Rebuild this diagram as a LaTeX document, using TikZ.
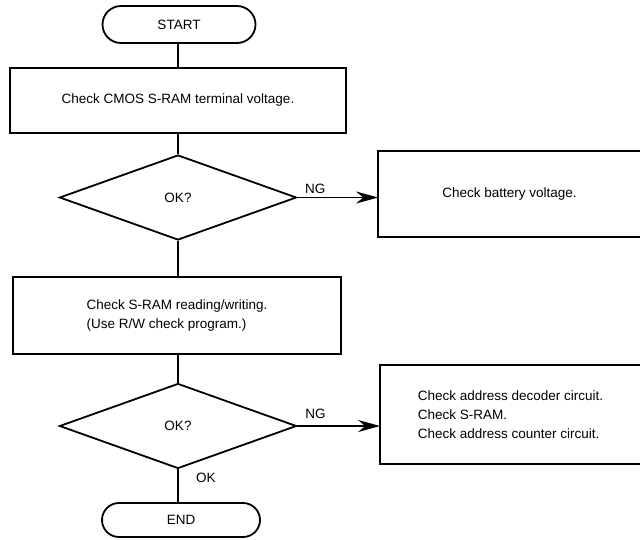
\documentclass[tikz,border=0pt]{standalone}
\usepackage{fontspec}
\setmainfont{Liberation Sans}
\usetikzlibrary{shapes,positioning,arrows.meta}
\tikzset{
  term/.style={draw,rounded rectangle,minimum height=37pt,inner sep=0pt},
  box/.style={draw,rectangle,align=left,inner sep=0pt},
  test/.style={draw,diamond,minimum width=237pt,minimum height=85pt,inner sep=0pt},
  side/.style={rectangle,align=left,inner sep=0pt},
  ngline/.style={-{Stealth[length=22pt,width=12pt]}}
}

\begin{document}
\begin{tikzpicture}[x=1pt,y=-1pt,line width=1.8pt,font=\fontsize{13.5}{19}\selectfont]
        \useasboundingbox (0,0) rectangle (640,539);
        \node [term,minimum width=153pt] (start) at (179,24.5) {START};
        \node [box,minimum width=336pt,minimum height=65pt] (cmos) at (178,100.5) {Check CMOS S-RAM terminal voltage.};
        \node [test] (ok1) at (178,197.5) {OK?};
        \node [side,minimum width=261pt,minimum height=84pt] (batt) at (509.5,194) {Check battery voltage.};
        \node [box,minimum width=328pt,minimum height=77pt] (rw) at (177,315.5) {Check S-RAM reading/writing.\\(Use R/W check program.)};
        \node [test] (ok2) at (178,426) {OK?};
        \node [side,minimum width=259pt,minimum height=97pt] (addr) at (510.5,414.5) {Check address decoder circuit.\\Check S-RAM.\\Check address counter circuit.};
        \node [term,minimum width=158pt,minimum height=34pt] (end) at (181,520) {END};
        % boxes on the right run off the page
        \draw (batt.north east) -- (batt.north west) -- (batt.south west) -- (batt.south east);
        \draw (addr.north east) -- (addr.north west) -- (addr.south west) -- (addr.south east);
        \draw (start.south -| cmos.north) -- (cmos.north);
        \draw (cmos.south) -- (ok1.north);
        \draw (ok1.south) -- (rw.north -| ok1.south);
        \draw (rw.south -| ok2.north) -- (ok2.north);
        \draw (ok2.south) -- node [right=14pt,pos=0.26] {OK} (ok2.south |- end.north);
        \draw [ngline] (ok1.east) -- node [above,pos=0.22] {NG} (ok1.east -| batt.west);
        \draw [ngline] (ok2.east) -- node [above=3pt,pos=0.22] {NG} (ok2.east -| addr.west);
      \end{tikzpicture}
\end{document}
